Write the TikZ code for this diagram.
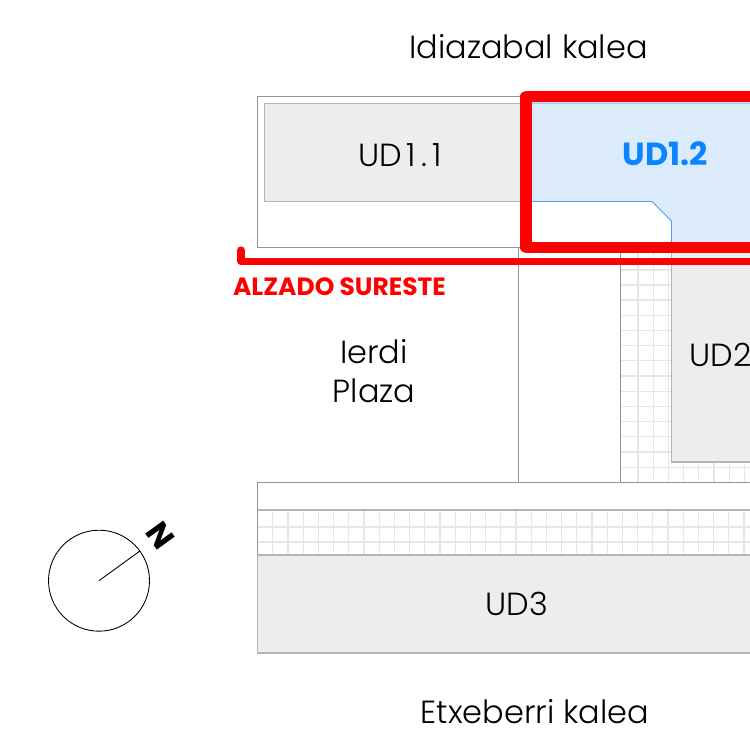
\documentclass[tikz,border=0pt]{standalone}
\usepackage{fontspec}
\setmainfont{Poppins}
\newfontfamily\lightfont{Poppins Light}
\definecolor{udgray}{HTML}{EDEDED}
\definecolor{udblue}{HTML}{DBEBFC}
\definecolor{udline}{HTML}{4FA0F5}
\definecolor{udtext}{HTML}{0A84FF}
\definecolor{gridline}{HTML}{E6E6E6}
\definecolor{wallline}{HTML}{949494}
\tikzset{
    wall/.style={draw=wallline, line width=0.5pt},
    unit/.style={draw=wallline!70, line width=0.7pt, fill=udgray},
    gridrule/.style={draw=gridline, line width=0.7pt},
    streetlabel/.style={font=\lightfont\fontsize{18.2}{22}\selectfont, align=center, text=black, inner sep=0pt},
    redmark/.style={draw=red, line join=round, line cap=round}
}
\begin{document}
\begin{tikzpicture}[x=0.02cm, y=-0.02cm]
    \useasboundingbox (0,0) rectangle (750,732);
    \clip (0,0) rectangle (750,732);

    % paving grids
    \foreach \xx in {638,653.2,668.4,683.6,698.8,714,729.2,744.4} \draw[gridrule] (\xx,252) -- (\xx,482);
    \foreach \yy in {270,285,300,315.2,330.4,345.6,360.8,376,391.2,406.4,421.6,436.8,452,467.2} \draw[gridrule] (620,\yy) -- (750,\yy);
    \foreach \k in {0,...,32} \draw[gridrule] (257.6+15.2*\k,510) -- (257.6+15.2*\k,555);
    \foreach \yy in {527,542} \draw[gridrule] (258,\yy) -- (750,\yy);

    % blocks
    \draw[wall] (257.5,96.5) rectangle (530,247.3);
    \draw[wall] (518,247) -- (518,482);
    \draw[wall] (620.5,247) -- (620.5,482);
    \draw[wall] (257.5,482) -- (760,482);
    \draw[wall] (257.5,482) -- (257.5,555);
    \draw[wall, draw=wallline!70, line width=0.7pt] (257.5,510) -- (760,510);
    \draw[unit] (264.8,103.5) rectangle (529,201.7);
    \draw[unit] (760,252) -- (671.5,252) -- (671.5,462) -- (760,462);
    \draw[unit] (257.5,555) rectangle (760,653);

    % selected unit
    \draw[draw=udline, fill=udblue, line width=0.45pt] (530,103) -- (760,103) -- (760,252) -- (671.5,252) -- (671.5,221) -- (652,201.5) -- (530,201.5) -- cycle;
    \draw[redmark, line width=6.3pt] (760,96.5) -- (526,96.5) -- (526,247.5) -- (760,247.5);
    \draw[redmark, line width=4pt] (241,250) -- (241,261.5) -- (760,261.5);

    % labels
    \node[streetlabel] at (528.5,47) (idiazabal) {Idiazabal kalea};
    \node[streetlabel] at (400,155) (ud11) {UD\kern2.5pt1\kern3pt.\kern3pt1};
    \node[streetlabel, font=\fontsize{18.2}{22}\selectfont\bfseries, text=udtext] at (665.5,154) (ud12) {UD1.2};
    \node[streetlabel, anchor=west] at (689,355) (ud2) {UD2};
    \node[streetlabel] at (374,371) (ierdi) {Ierdi\\Plaza};
    \node[streetlabel] at (517,604) (ud3) {UD3};
    \node[streetlabel] at (535,712) (etxeberri) {Etxeberri kalea};
    \node[font=\fontsize{14.2}{16}\selectfont\bfseries, text=red, inner sep=0pt] at (339.5,286.5) (alzado) {ALZADO SURESTE};

    % north mark
    \node[draw=black, line width=0.5pt, circle, minimum size=2.02cm, inner sep=0pt] at (99,580.7) (compass) {};
    \coordinate (centre) at (99,580.7);
    \draw[black, line width=0.5pt] (centre) -- (compass.36);
    \node[font=\fontsize{18}{18}\selectfont\bfseries, rotate=-54, inner sep=0pt] at (160.5,535.5) (north) {N};
\end{tikzpicture}
\end{document}
